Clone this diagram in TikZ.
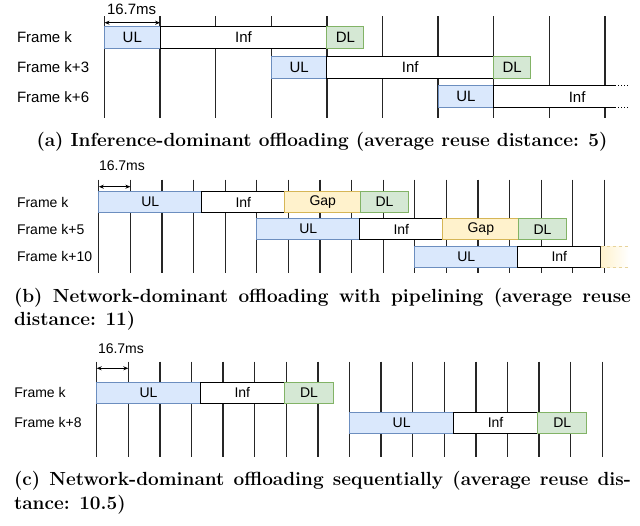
\documentclass[tikz,border=0pt]{standalone}
\usepackage{fontspec}
\setsansfont{Liberation Sans}
\usetikzlibrary{positioning,arrows.meta}

\definecolor{ulfill}{HTML}{DAE8FC}
\definecolor{ulline}{HTML}{6C8EBF}
\definecolor{dlfill}{HTML}{D5E8D4}
\definecolor{dlline}{HTML}{82B366}
\definecolor{gapfill}{HTML}{FFF2CC}
\definecolor{gapline}{HTML}{D6B656}
\definecolor{tickgray}{HTML}{262626}

\tikzstyle{every node}+=[inner sep=0pt,outer sep=0pt,font=\sffamily\fontsize{14}{14}\selectfont]
\tikzstyle{slotline}=[draw=tickgray,line width=1.3pt]
\tikzstyle{box}=[rectangle,line width=1pt,minimum height=21pt]
\tikzstyle{ulbox}=[box,draw=ulline,fill=ulfill,minimum width=103pt]
\tikzstyle{infbox}=[box,draw=black,fill=white,minimum width=83pt]
\tikzstyle{gapbox}=[box,draw=gapline,fill=gapfill,minimum width=76pt]
\tikzstyle{dlbox}=[box,draw=dlline,fill=dlfill,minimum width=47.5pt]
\tikzstyle{framelabel}=[anchor=west]
\tikzstyle{msarrow}=[line width=1pt,{Stealth[length=5pt,width=4pt]}-{Stealth[length=5pt,width=4pt]}]
\tikzstyle{caption}=[anchor=west,font=\rmfamily\bfseries\fontsize{19}{23}\selectfont]

\begin{document}
\begin{tikzpicture}[x=1pt,y=-1pt]
\useasboundingbox (0,0) rectangle (640,525);

% (a) inference-dominant
\foreach \i in {0,...,9}
  \draw[slotline] (104.5+\i*55.6,16) -- (104.5+\i*55.6,118);
\coordinate (a0) at (104.5,22.7);
\coordinate (a1) at (160.1,22.7);
\draw[msarrow] (a0) -- (a1);
\node[anchor=west,font=\sffamily\fontsize{15}{15}\selectfont] (ams) at (107,9) {16.7ms};

\node[framelabel,font=\sffamily\fontsize{15}{15}\selectfont] (fa0) at (17,37.5) {Frame k};
\node[framelabel,font=\sffamily\fontsize{15}{15}\selectfont] (fa3) at (17,67.2) {Frame k+3};
\node[framelabel,font=\sffamily\fontsize{15}{15}\selectfont] (fa6) at (17,96.7) {Frame k+6};

\tikzset{box/.append style={minimum height=22pt,font=\sffamily\fontsize{15}{15}\selectfont}}
\node[ulbox,minimum width=55.6pt,anchor=west] (a0u) at (104.5,37.5) {UL};
\node[infbox,minimum width=166.8pt,right=0pt of a0u] (a0i) {Inf};
\node[dlbox,minimum width=37pt,right=0pt of a0i] (a0d) {DL};

\node[ulbox,minimum width=55.6pt,anchor=west] (a3u) at (271.3,67.2) {UL};
\node[infbox,minimum width=166.8pt,right=0pt of a3u] (a3i) {Inf};
\node[dlbox,minimum width=37pt,right=0pt of a3i] (a3d) {DL};

\node[ulbox,minimum width=55.6pt,anchor=west] (a6u) at (438.1,96.7) {UL};
\node[infbox,draw=none,minimum width=121.3pt,right=0pt of a6u] (a6i) {\hspace*{45.6pt}Inf};
\draw[line width=1pt] (a6i.north east) -- (a6i.north west) -- (a6i.south west) -- (a6i.south east);
\draw[line width=1pt,dotted] (a6i.north east) -- ([xshift=15pt]a6i.north east);
\draw[line width=1pt,dotted] (a6i.south east) -- ([xshift=15pt]a6i.south east);
\tikzset{box/.append style={minimum height=20.5pt,font=\sffamily\fontsize{14}{14}\selectfont}}

\node[caption,anchor=center] (capa) at (322,141.7)
  {(a) Inference-dominant offloading (average reuse distance: 5)};

% (b) network-dominant, pipelined
\foreach \i in {0,...,16}
  \draw[slotline] (98.8+\i*31.6,179.5) -- (98.8+\i*31.6,273.3);
\coordinate (b0) at (98.8,186.7);
\coordinate (b1) at (130.4,186.7);
\draw[msarrow] (b0) -- (b1);
\node[anchor=west] (bms) at (99,166) {16.7ms};

\node[framelabel] (fb0) at (17,202) {Frame k};
\node[framelabel] (fb5) at (17,229.2) {Frame k+5};
\node[framelabel] (fb10) at (17,256.9) {Frame k+10};

\node[ulbox,anchor=west] (b0u) at (98.8,202) {UL};
\node[infbox,right=0pt of b0u] (b0i) {Inf};
\node[gapbox,right=0pt of b0i] (b0g) {Gap};
\node[dlbox,right=0pt of b0g] (b0d) {DL};

\node[ulbox,anchor=west] (b5u) at (256.8,229.2) {UL};
\node[infbox,right=0pt of b5u] (b5i) {Inf};
\node[gapbox,right=0pt of b5i] (b5g) {Gap};
\node[dlbox,right=0pt of b5g] (b5d) {DL};

\node[ulbox,anchor=west] (b10u) at (414.8,256.9) {UL};
\node[infbox,right=0pt of b10u] (b10i) {Inf};
\node[box,minimum width=28pt,left color=gapfill,right color=white,right=0pt of b10i] (b10f) {};
\draw[gapline!60,dashed,line width=0.8pt] (b10f.north west) -- (b10f.north east);
\draw[gapline!60,dashed,line width=0.8pt] (b10f.south west) -- (b10f.south east);

\node[caption] (capb1) at (14,297.5)
  {\makebox[617pt][s]{(b) Network-dominant offloading with pipelining (average reuse}};
\node[caption] (capb2) at (14,320.5) {distance: 11)};

% (c) network-dominant, sequential
\foreach \i in {0,...,16}
  \draw[slotline] (96.7+\i*31.6,361.7) -- (96.7+\i*31.6,456.7);
\coordinate (c0) at (96.7,368.3);
\coordinate (c1) at (128.3,368.3);
\draw[msarrow] (c0) -- (c1);
\node[anchor=west] (cms) at (98,348.3) {16.7ms};

\node[framelabel] (fc0) at (14.3,392.8) {Frame k};
\node[framelabel] (fc8) at (14.3,422.8) {Frame k+8};

\tikzset{box/.append style={minimum height=21pt}}
\node[ulbox,minimum width=103.5pt,anchor=west] (c0u) at (96.7,392.8) {UL};
\node[infbox,minimum width=84.3pt,right=0pt of c0u] (c0i) {Inf};
\node[dlbox,minimum width=49pt,right=0pt of c0i] (c0d) {DL};

\node[ulbox,minimum width=103.5pt,anchor=west] (c8u) at (349.9,422.8) {UL};
\node[infbox,minimum width=84.3pt,right=0pt of c8u] (c8i) {Inf};
\node[dlbox,minimum width=49pt,right=0pt of c8i] (c8d) {DL};

\node[caption] (capc1) at (14,481)
  {\makebox[617pt][s]{(c) Network-dominant offloading sequentially (average reuse dis-}};
\node[caption] (capc2) at (14,505) {tance: 10.5)};
\end{tikzpicture}
\end{document}
